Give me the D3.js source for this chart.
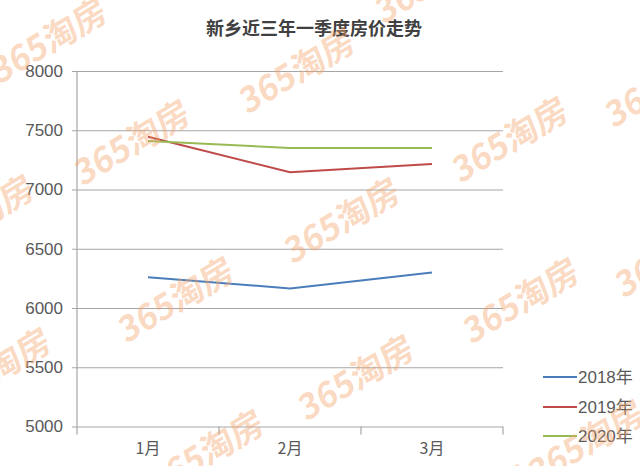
<!DOCTYPE html>
<html>
<head>
<meta charset="utf-8">
<script src="https://cdn.jsdelivr.net/npm/d3@7/dist/d3.min.js"></script>
<style>
  html, body { margin: 0; padding: 0; background: #fff; }
  svg { display: block; }
</style>
</head>
<body>
<svg id="chart" width="640" height="466"></svg>
<script>
const title = "新乡近三年一季度房价走势";
const categories = ["1月", "2月", "3月"];
const seriesNames = ["2018年", "2019年", "2020年"];
const values2018 = [6260, 6165, 6300];
const values2019 = [7445, 7145, 7215];
const values2020 = [7410, 7350, 7350];
const yTicks = [5000, 5500, 6000, 6500, 7000, 7500, 8000];
const seriesColors = ["#4A7EBB", "#BE4B48", "#98B954"];
const watermarkText = "365淘房";
const watermarkCenters = [
  [48, 38], [296, 68], [131, 140], [509, 137], [341, 218], [175, 297],
  [520, 298], [355, 375], [205, 450], [585, 440], [-8, 368], [-25, 215],
  [662, 82], [672, 252], [432, -22], [470, 505]
];

const svg = d3.select("#chart");
const W = 640, H = 466;
const margin = { left: 77, right: 137, top: 71, bottom: 39.5 };

const x = d3.scaleBand().domain(categories)
  .range([margin.left, W - margin.right]).padding(0);
const y = d3.scaleLinear().domain([5000, 8000])
  .range([H - margin.bottom, margin.top]);

svg.append("rect").attr("width", W).attr("height", H).attr("fill", "#fff");

// Title
svg.append("text")
  .attr("x", 314).attr("y", 35)
  .attr("text-anchor", "middle")
  .attr("font-family", "'Noto Sans CJK SC', sans-serif")
  .attr("font-weight", "bold")
  .attr("font-size", 18)
  .attr("fill", "#404040")
  .text(title);

// Gridlines + y axis labels
const yAxis = d3.axisLeft(y).tickValues(yTicks)
  .tickSize(-(W - margin.right - margin.left + 5))
  .tickPadding(9)
  .tickFormat(d3.format("d"));
const gy = svg.append("g")
  .attr("transform", `translate(${margin.left - 5},0)`)
  .call(yAxis);
gy.select(".domain").remove();
gy.selectAll(".tick line").attr("stroke", "#a6a6a6").attr("stroke-width", 1.2);
gy.selectAll(".tick text")
  .attr("font-family", "'Liberation Sans', sans-serif")
  .attr("font-size", 17)
  .attr("fill", "#595959");

// Vertical axis line
svg.append("line")
  .attr("x1", margin.left).attr("x2", margin.left)
  .attr("y1", margin.top).attr("y2", H - margin.bottom + 8)
  .attr("stroke", "#a6a6a6").attr("stroke-width", 1.2);

// X axis ticks & labels
const xAxis = d3.axisBottom(x).tickSize(0).tickPadding(16);
const gx = svg.append("g")
  .attr("transform", `translate(0,${H - margin.bottom})`)
  .call(xAxis);
gx.select(".domain").remove();
gx.selectAll(".tick text")
  .attr("font-family", "'Noto Sans CJK SC', sans-serif")
  .attr("font-size", 16)
  .attr("fill", "#595959");
svg.append("g").selectAll("line")
  .data(categories)
  .join("line")
  .attr("x1", d => x(d) + x.bandwidth())
  .attr("x2", d => x(d) + x.bandwidth())
  .attr("y1", H - margin.bottom)
  .attr("y2", H - margin.bottom + 8)
  .attr("stroke", "#a6a6a6").attr("stroke-width", 1.2);

// Lines
const allSeries = [values2018, values2019, values2020];
const line = d3.line()
  .x((d, i) => x(categories[i]) + x.bandwidth() / 2)
  .y(d => y(d));
svg.append("g").selectAll("path")
  .data(allSeries)
  .join("path")
  .attr("d", d => line(d))
  .attr("fill", "none")
  .attr("stroke", (d, i) => seriesColors[i])
  .attr("stroke-width", 2);

// Legend
const legend = svg.append("g");
const legendY = [377, 407, 436];
seriesNames.forEach((name, i) => {
  legend.append("line")
    .attr("x1", 543).attr("x2", 577)
    .attr("y1", legendY[i]).attr("y2", legendY[i])
    .attr("stroke", seriesColors[i]).attr("stroke-width", 2);
  legend.append("text")
    .attr("x", 578).attr("y", legendY[i] + 6)
    .attr("font-family", "'Liberation Sans', 'Noto Sans CJK SC', sans-serif")
    .attr("font-size", 17)
    .attr("fill", "#595959")
    .text(name);
});

// Watermarks
svg.append("g").attr("pointer-events", "none")
  .selectAll("text")
  .data(watermarkCenters)
  .join("text")
  .attr("transform", d => `translate(${d[0]},${d[1]}) rotate(-31) skewX(-8)`)
  .attr("text-anchor", "middle")
  .attr("dominant-baseline", "central")
  .attr("font-family", "'Noto Sans CJK SC', sans-serif")
  .attr("font-weight", "bold")
  .attr("font-size", 34)
  .attr("fill", "#F5A46A")
  .attr("fill-opacity", 0.42)
  .text(watermarkText);
</script>
</body>
</html>
